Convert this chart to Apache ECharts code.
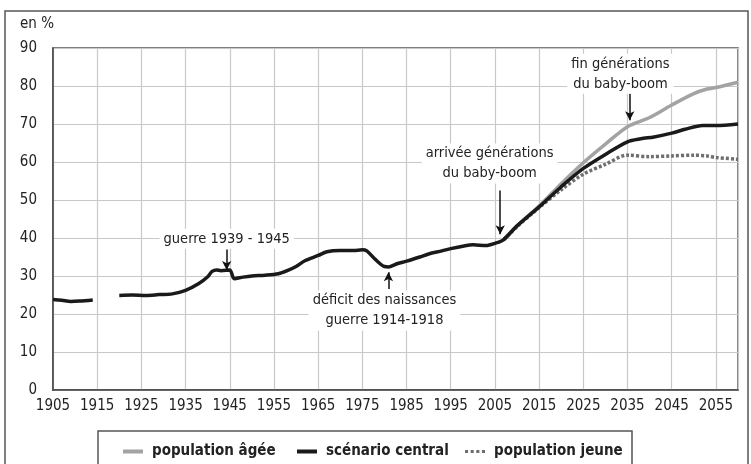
<!DOCTYPE html>
<html>
<head>
<meta charset="utf-8">
<script src="https://cdn.jsdelivr.net/npm/echarts@6/dist/echarts.min.js"></script>
<style>
  html, body { margin: 0; padding: 0; background: #fff; }
  #chart { width: 751px; height: 464px; }
</style>
</head>
<body>
<div id="chart"></div>
<script>
// données (en %)
const startYear = 1905;
const centralYears = [1905, 1907, 1909, 1911, 1914, 1917, 1920, 1923, 1926, 1929, 1932, 1935, 1938, 1940, 1941, 1942, 1943, 1945, 1946, 1948, 1950, 1953, 1956, 1958, 1960, 1962, 1965, 1967, 1970, 1973, 1975, 1976, 1978, 1980, 1981, 1983, 1985, 1988, 1990, 1993, 1995, 1998, 2000, 2003, 2005, 2007, 2010, 2015, 2020, 2025, 2030, 2035, 2038, 2041, 2045, 2048, 2052, 2055, 2060];
const centralValues = [23.8, 23.6, 23.3, 23.4, 23.7, null, 24.9, 25.0, 24.9, 25.1, 25.3, 26.2, 28.0, 29.8, 31.2, 31.6, 31.4, 31.6, 29.3, 29.7, 30.0, 30.2, 30.6, 31.4, 32.5, 34.0, 35.4, 36.4, 36.7, 36.7, 36.9, 36.6, 34.3, 32.5, 32.4, 33.3, 33.9, 35.0, 35.8, 36.6, 37.2, 37.9, 38.2, 38.0, 38.6, 39.6, 43.2, 48.2, 53.5, 58.3, 62.0, 65.3, 66.1, 66.6, 67.6, 68.6, 69.6, 69.6, 70.0];
const projYears = [2007, 2010, 2015, 2020, 2025, 2030, 2035, 2040, 2045, 2050, 2053, 2055, 2060];
const ageeValues = [39.6, 43.2, 48.4, 54.3, 59.8, 64.7, 69.3, 71.7, 75.0, 78.0, 79.2, 79.6, 81.0];
const jeuneValues = [39.6, 43.0, 48.0, 52.7, 56.8, 59.4, 61.8, 61.4, 61.6, 61.8, 61.6, 61.2, 60.7];
const yearTicks = [1905, 1915, 1925, 1935, 1945, 1955, 1965, 1975, 1985, 1995, 2005, 2015, 2025, 2035, 2045, 2055];

const font = "'Liberation Sans Narrow', 'DejaVu Sans Condensed', sans-serif";

function pairs(years, values) {
  return years.map((y, i) => [y - startYear, values[i]]);
}

// flèches des annotations (année, haut, bas)
function arrow(year, yFrom, yTo) {
  return [{ coord: [year - startYear, yFrom] }, { coord: [year - startYear, yTo] }];
}

const chart = echarts.init(document.getElementById('chart'));

const option = {
  animation: false,
  grid: {
    left: 53, right: 13, top: 48, bottom: 74,
    show: true, borderColor: '#555', borderWidth: 1.5
  },
  xAxis: {
    type: 'value',
    min: 0,
    max: 2060 - startYear,
    interval: 10,
    axisLine: { show: true, lineStyle: { color: '#444', width: 1.5 } },
    axisTick: { show: false },
    splitLine: { show: true, lineStyle: { color: '#c8c8c8', width: 1.2 } },
    axisLabel: {
      showMaxLabel: false,
      margin: 9,
      color: '#222',
      fontFamily: font,
      fontSize: 15,
      formatter: v => yearTicks.includes(v + startYear) ? String(v + startYear) : ''
    }
  },
  yAxis: {
    type: 'value',
    min: 0, max: 90, interval: 10,
    axisLine: { show: true, lineStyle: { color: '#444', width: 1.5 } },
    axisTick: { show: false },
    splitLine: { lineStyle: { color: '#c8c8c8', width: 1.2 } },
    axisLabel: { margin: 16, color: '#222', fontFamily: font, fontSize: 15 }
  },
  legend: [
    { name: 'population âgée', left: 118, icon: 'rect' },
    { name: 'scénario central', left: 292, icon: 'rect' },
    { name: 'population jeune', left: 460, icon: 'path://M0,0h3v3h-3z M5.5,0h3v3h-3z M11,0h3v3h-3z M16.5,0h3v3h-3z' }
  ].map(l => ({
    data: [l.name],
    left: l.left,
    top: 439,
    icon: l.icon,
    itemWidth: 20,
    itemHeight: 4,
    itemGap: 10,
    textStyle: { color: '#222', fontFamily: font, fontSize: 15, fontWeight: 'bold', padding: [0, 0, 0, 4] }
  })),
  series: [
    {
      name: 'population âgée',
      type: 'line',
      data: pairs(projYears, ageeValues),
      showSymbol: false,
      symbol: 'none',
      smooth: 0.3,
      lineStyle: { color: '#a3a3a3', width: 3.5 },
      itemStyle: { color: '#a3a3a3' }
    },
    {
      name: 'population jeune',
      type: 'line',
      data: pairs(projYears, jeuneValues),
      showSymbol: false,
      symbol: 'none',
      smooth: 0.3,
      lineStyle: { color: '#6e6e6e', width: 3.5, type: [3, 2] },
      itemStyle: { color: '#6e6e6e' }
    },
    {
      name: 'scénario central',
      type: 'line',
      data: pairs(centralYears, centralValues),
      showSymbol: false,
      symbol: 'none',
      smooth: 0.3,
      connectNulls: false,
      lineStyle: { color: '#1a1a1a', width: 3.5 },
      itemStyle: { color: '#1a1a1a' },
      markLine: {
        silent: true,
        symbol: ['none', 'arrow'],
        symbolSize: [7, 9],
        label: { show: false },
        lineStyle: { color: '#111', width: 1.5, type: 'solid' },
        data: [
          arrow(1944.3, 37.0, 31.6),
          arrow(1980.9, 26.6, 31.0),
          arrow(2006.2, 52.5, 41.0),
          arrow(2035.5, 78.0, 71.0)
        ]
      }
    }
  ]
};
chart.setOption(option);

// textes d'annotation, placés en coordonnées de données
const notes = [
  { text: 'guerre 1939 - 1945', year: 1944.3, value: 39.8 },
  { text: 'déficit des naissances\nguerre 1914-1918', year: 1980.0, value: 20.9 },
  { text: 'arrivée générations\ndu baby-boom', year: 2003.8, value: 59.6 },
  { text: 'fin générations\ndu baby-boom', year: 2033.4, value: 83.2 }
];

const graphics = notes.map(n => {
  const p = chart.convertToPixel({ gridIndex: 0 }, [n.year - startYear, n.value]);
  return {
    type: 'text',
    x: p[0], y: p[1],
    style: {
      text: n.text,
      fill: '#222',
      font: '14.5px ' + font,
      align: 'center',
      verticalAlign: 'middle',
      lineHeight: 20,
      backgroundColor: '#fff',
      padding: [0, 4]
    },
    z: 100
  };
});

graphics.push(
  { type: 'text', left: 20, top: 17, style: { text: 'en %', fill: '#222', font: '15px ' + font } },
  { type: 'rect', shape: { x: 5, y: 11, width: 743, height: 470 }, style: { fill: 'none', stroke: '#555', lineWidth: 1.5 }, z: -1 },
  { type: 'rect', shape: { x: 98, y: 431, width: 534, height: 45 }, style: { fill: 'none', stroke: '#555', lineWidth: 1.5 }, z: -1 }
);

chart.setOption({ graphic: graphics });
</script>
</body>
</html>
